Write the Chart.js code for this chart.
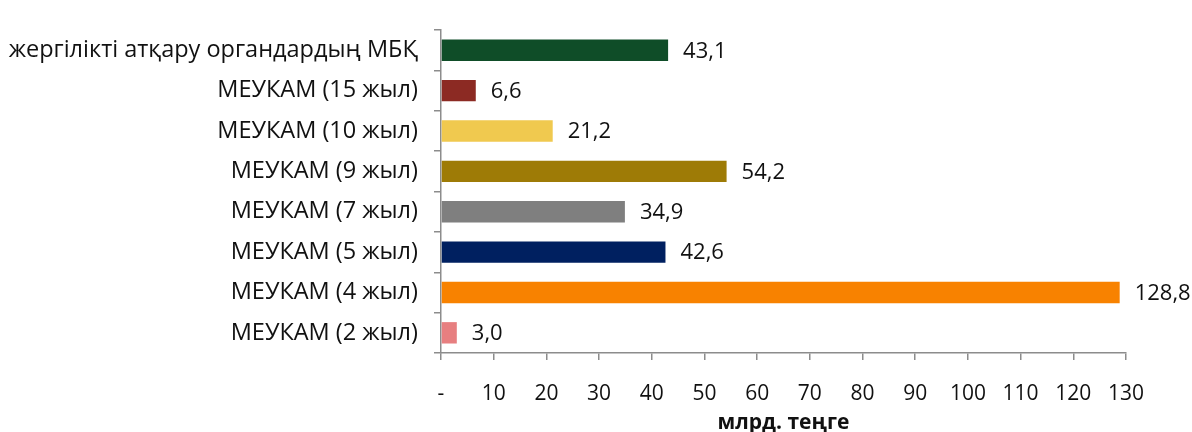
<!DOCTYPE html>
<html><head><meta charset="utf-8">
<script src="https://cdn.jsdelivr.net/npm/chart.js@4/dist/chart.umd.min.js"></script>
<style>html,body{margin:0;padding:0;background:#fff}#wrap{width:1192px;height:432px}</style>
</head><body><div id="wrap"><canvas id="c" width="1192" height="432"></canvas></div>
<script>
const categories = ["жергілікті атқару органдардың МБҚ","МЕУКАМ (15 жыл)","МЕУКАМ (10 жыл)","МЕУКАМ (9 жыл)","МЕУКАМ (7 жыл)","МЕУКАМ (5 жыл)","МЕУКАМ (4 жыл)","МЕУКАМ (2 жыл)"];
const values = [43.1, 6.6, 21.2, 54.2, 34.9, 42.6, 128.8, 3.0];
const barColors = ["#0f4d28","#8c2a23","#f0c94f","#9e7b06","#7f7f7f","#002060","#f88200","#e77f80"];
const xTicks = [0,10,20,30,40,50,60,70,80,90,100,110,120,130];
const axisTitle = "млрд. теңге";
const FONT = "'Open Sans', sans-serif";

const labelPlugin = {
  id: 'valLabels',
  afterDatasetsDraw(chart) {
    const ctx = chart.ctx;
    const meta = chart.getDatasetMeta(0);
    ctx.save();
    ctx.font = "22px " + FONT;
    ctx.fillStyle = "#111";
    ctx.textAlign = "left";
    ctx.textBaseline = "middle";
    meta.data.forEach((bar, i) => {
      ctx.fillText(values[i].toFixed(1).replace('.', ','), bar.x + 15, bar.y + 1);
    });
    ctx.restore();
  }
};

new Chart(document.getElementById('c'), {
  type: 'bar',
  data: { labels: categories, datasets: [{ data: values, backgroundColor: barColors, barPercentage: 0.53, categoryPercentage: 1 }] },
  options: {
    indexAxis: 'y', responsive: false, animation: false,
    layout: { padding: { left: 8, top: 13, right: 66, bottom: 0 } },
    plugins: { legend: { display: false }, tooltip: { enabled: false } },
    scales: {
      x: {
        min: 0, max: 130,
        afterBuildTicks(s) { s.ticks = xTicks.map(v => ({ value: v })); },
        afterFit(s) { s.height = 79; },
        border: { color: '#8c8c8c', width: 1.5 },
        grid: { drawOnChartArea: false, drawTicks: true, tickLength: 7, color: '#8c8c8c', lineWidth: 1.5 },
        ticks: { color: '#111', font: { family: FONT, size: 21 }, padding: 21, maxRotation: 0, autoSkip: false,
          callback: v => v === 0 ? '-' : String(v) },
        title: { display: true, text: axisTitle, color: '#111', font: { family: FONT, size: 21, weight: 'bold' }, padding: { top: 0, bottom: -4 } }
      },
      y: {
        afterFit(s) { s.width = 433; },
        border: { color: '#8c8c8c', width: 1.5 },
        grid: { drawOnChartArea: false, drawTicks: true, tickLength: 7, color: '#8c8c8c', lineWidth: 1.5, offset: true },
        ticks: { color: '#111', font: { family: FONT, size: 23.5 }, padding: 16, autoSkip: false }
      }
    }
  },
  plugins: [labelPlugin]
});
</script></body></html>
